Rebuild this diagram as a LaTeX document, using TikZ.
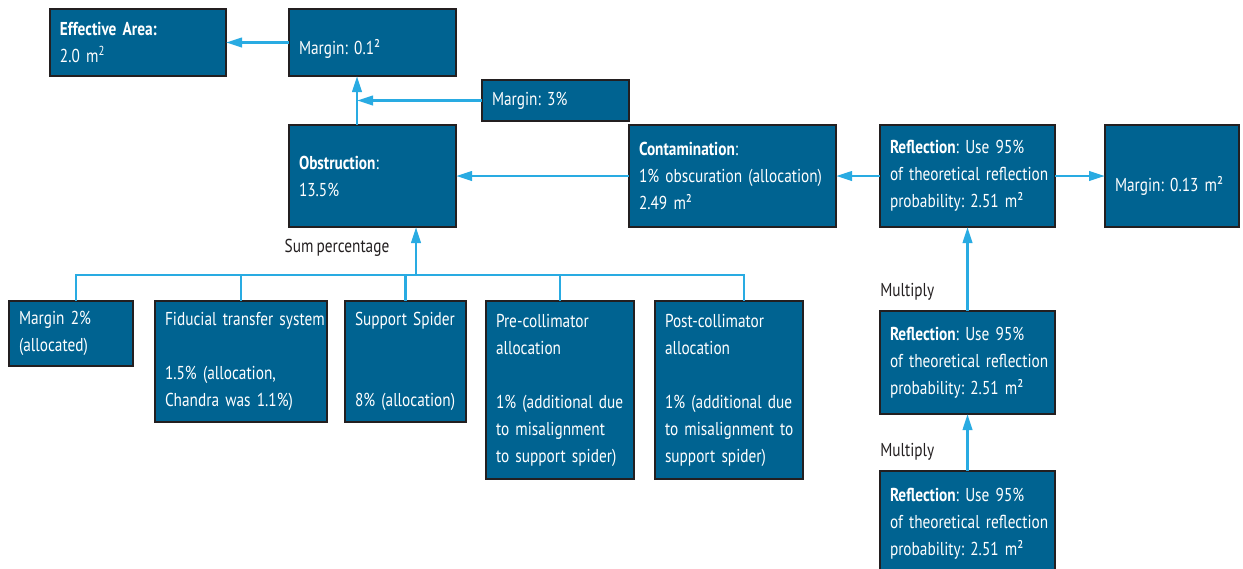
\documentclass[tikz,border=0pt]{standalone}
\usepackage{fontspec}
\setmainfont{PT Sans}[FakeStretch=0.82, WordSpace=0.75]
\usetikzlibrary{arrows.meta}

\definecolor{boxblue}{RGB}{0,99,145}
\definecolor{boxline}{RGB}{35,31,32}
\definecolor{linkblue}{RGB}{41,171,226}
\definecolor{notegray}{RGB}{35,31,32}

\newcommand\boxfont{\fontsize{14}{20.25}\selectfont\frenchspacing}

\tikzset{
  box/.style 2 args={draw=boxline, line width=1pt, fill=boxblue, text=white,
    anchor=north west, align=left, text width=#1, minimum height=#2,
    inner xsep=0pt, inner ysep=0pt, outer sep=0pt, font=\boxfont,
    execute at begin node={\lefthyphenmin=64\relax\leftskip=7.5pt\relax}},
  link/.style={draw=linkblue, line width=2pt},
  linkarrow/.style={link, -{Triangle[length=12pt,width=7pt]}},
  note/.style={text=notegray, inner sep=0pt, font=\boxfont},
}

\begin{document}
\begin{tikzpicture}[x=0.75pt, y=-0.75pt]
  \useasboundingbox (0,0) rectangle (1243,568);
  \clip (0,0) rectangle (1243,568);

  % Ligne du haut
  \node[box={132pt}{50.25pt}] (eff) at (50,9) {\textbf{Effective Area:}\\2.0 m\textsuperscript{2}};
  \node[box={125.25pt}{50.25pt}] (m01) at (289,9) {\mbox{}\\Margin: 0.1²};
  \node[box={110.25pt}{30.75pt}] (m3) at (482,80) {Margin: 3\%};

  % Ligne du milieu
  \node[box={125.25pt}{76.5pt}] (obs) at (289,125) {\textbf{Obstruction}:\\13.5\%};
  \node[box={155.25pt}{76.5pt}] (cont) at (629,125) {\textbf{Contamination}:\\1\% obscuration (allocation)\\2.49 m²};
  \node[box={131.25pt}{76.5pt}] (refl1) at (880,125) {\textbf{Reflection}: Use 95\%\\of theoretical reflection\\probability: 2.51 m²};
  \node[box={100.5pt}{76.5pt}] (m013) at (1105,125) {\raisebox{-7.5pt}[\height][\depth]{Margin: 0.13 m²}};

  % Reflexions empilees
  \node[box={131.25pt}{77.25pt}] (refl2) at (880,311) {\textbf{Reflection}: Use 95\%\\of theoretical reflection\\probability: 2.51 m²};
  \node[box={131.25pt}{78.75pt}] (refl3) at (880,471) {\textbf{Reflection}: Use 95\%\\of theoretical reflection\\probability: 2.51 m²};
  \node[note, anchor=west] (mul1) at (880,292) {Multiply};
  \node[note, anchor=west] (mul2) at (880,452) {Multiply};

  % Ligne du bas
  \node[box={93pt}{48.75pt}] (m2) at (9,301) {Margin 2\%\\(allocated)};
  \node[box={129pt}{90.75pt}] (fid) at (155,301) {Fiducial transfer system\\[20.25pt]1.5\% (allocation,\\Chandra was 1.1\%)};
  \node[box={90.75pt}{90.75pt}] (spider) at (345,301) {Support Spider\\[40.5pt]8\% (allocation)};
  \node[box={111pt}{133.5pt}] (pre) at (486,301) {Pre-collimator\\allocation\\[20.25pt]1\% (additional due\\to misalignment\\to support spider)};
  \node[box={111pt}{133.5pt}] (post) at (655,301) {Post-collimator\\allocation\\[20.25pt]1\% (additional due\\to misalignment to\\support spider)};
  \node[note] (sum) at (337,248) {Sum percentage};

  % Fleches
  \coordinate (stem) at (357,0);
  \draw[linkarrow] (m01.west) -- (eff.east);
  \draw[linkarrow] (obs.north -| stem) -- (m01.south -| stem);
  \draw[linkarrow] (m3.west) -- (m3.west -| stem);
  \draw[linkarrow] (cont.west) -- (obs.east);
  \draw[linkarrow] (refl1.west) -- (cont.east);
  \draw[linkarrow] (refl1.east) -- (m013.west);
  \draw[linkarrow] (refl2) -- (refl1);
  \draw[linkarrow] (refl3) -- (refl2);

  % Somme
  \coordinate (bus) at (416,275);
  \coordinate (m2top) at ([xshift=3.75pt]m2.north);
  \coordinate (posttop) at ([xshift=11.25pt]post.north);
  \draw[link] (m2top) |- (bus) -| (posttop);
  \foreach \n in {fid,spider,pre}
    \draw[link] (\n.north) -- (\n.north |- bus);
  \draw[linkarrow] (bus) -- (bus |- obs.south);

\end{tikzpicture}
\end{document}
